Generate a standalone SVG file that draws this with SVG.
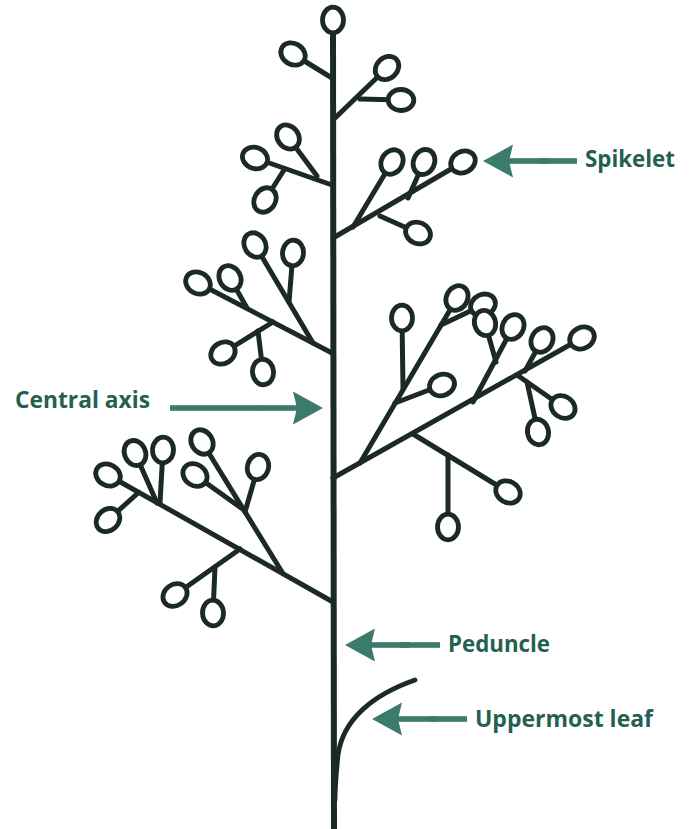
<svg xmlns="http://www.w3.org/2000/svg" width="689" height="829" viewBox="0 0 689 829">
  <style>
    .axis { stroke: #1c2a24; stroke-width: 6; fill: none; stroke-linecap: butt; }
    .br { stroke: #1c2a24; stroke-width: 5; fill: none; stroke-linecap: round; }
    .leaf { stroke: #1c2a24; stroke-width: 4.8; fill: none; stroke-linecap: round; }
    .sp { stroke: #1c2a24; stroke-width: 4.8; fill: #ffffff; }
    .arrow { fill: #3b7b6b; }
    .lbl { font-family: "Open Sans", "Liberation Sans", sans-serif; font-weight: bold; font-size: 23px; fill: #245f52; }
  </style>
  <defs>
    <ellipse id="spk" cx="0" cy="0" rx="10.5" ry="12.8" class="sp"/>
    <!-- left-pointing arrow with tip at origin -->
    <g id="arrL">
      <polygon points="0,0 30,-16.5 26,0 30,16.5"/>
      <rect x="25" y="-2.8" width="40" height="5.6"/>
    </g>
  </defs>
  <rect width="689" height="829" fill="#ffffff"/>

  <!-- the plant: central axis, leaf, branches and spikelets -->
  <g id="plant">
    <line class="axis" x1="333" y1="28" x2="334" y2="829"/>
    <path id="leaf" class="leaf" d="M415,680 C375,694 343,718 338,755 C336,775 335,790 335,800"/>

    <g id="branches" class="br">
      <!-- top -->
      <line x1="332" y1="78" x2="293" y2="54"/>
      <line x1="335" y1="118" x2="387" y2="68"/>
      <line x1="360" y1="99" x2="401" y2="100"/>
      <!-- upper left -->
      <line x1="332" y1="185" x2="255" y2="158"/>
      <line x1="317" y1="176" x2="288" y2="137"/>
      <line x1="284" y1="170" x2="265" y2="200"/>
      <!-- upper right -->
      <line x1="333" y1="238" x2="463" y2="162"/>
      <line x1="353" y1="227" x2="392" y2="162"/>
      <line x1="408" y1="198" x2="424" y2="162"/>
      <line x1="380" y1="216" x2="418" y2="233"/>
      <!-- middle left -->
      <line x1="332" y1="353" x2="198" y2="283"/>
      <line x1="247" y1="308" x2="230" y2="278"/>
      <line x1="313" y1="343" x2="255" y2="245"/>
      <line x1="289" y1="302" x2="293" y2="253"/>
      <line x1="273" y1="322" x2="223" y2="353"/>
      <line x1="258" y1="331" x2="263" y2="372"/>
      <!-- large right cluster -->
      <line x1="333" y1="478" x2="582" y2="338"/>
      <line x1="360" y1="463" x2="457" y2="298"/>
      <line x1="403" y1="389" x2="402" y2="318"/>
      <line x1="395" y1="403" x2="442" y2="385"/>
      <line x1="441" y1="325" x2="483" y2="305"/>
      <line x1="473" y1="402" x2="513" y2="327"/>
      <line x1="496" y1="362" x2="485" y2="323"/>
      <line x1="525" y1="371" x2="542" y2="340"/>
      <line x1="517" y1="375" x2="563" y2="407"/>
      <line x1="527" y1="382" x2="538" y2="432"/>
      <line x1="413" y1="434" x2="508" y2="492"/>
      <line x1="448" y1="455" x2="448" y2="527"/>
      <!-- lower left cluster -->
      <line x1="333" y1="602" x2="108" y2="475"/>
      <line x1="157" y1="503" x2="135" y2="453"/>
      <line x1="160" y1="503" x2="163" y2="450"/>
      <line x1="138" y1="493" x2="108" y2="520"/>
      <line x1="282" y1="572" x2="202" y2="442"/>
      <line x1="244" y1="510" x2="195" y2="475"/>
      <line x1="245" y1="512" x2="258" y2="467"/>
      <line x1="240" y1="549" x2="175" y2="595"/>
      <line x1="215" y1="567" x2="213" y2="613"/>
    </g>

    <g id="spikelets">
      <use href="#spk" transform="translate(333,20)"/>
      <use href="#spk" transform="translate(293,54) rotate(-58)"/>
      <use href="#spk" transform="translate(387,68) rotate(46)"/>
      <use href="#spk" transform="translate(401,100) rotate(91)"/>
      <use href="#spk" transform="translate(288,137) rotate(-37)"/>
      <use href="#spk" transform="translate(255,158) rotate(-71)"/>
      <use href="#spk" transform="translate(265,200) rotate(32)"/>
      <use href="#spk" transform="translate(392,162) rotate(31)"/>
      <use href="#spk" transform="translate(424,162) rotate(24)"/>
      <use href="#spk" transform="translate(463,162) rotate(60)"/>
      <use href="#spk" transform="translate(418,233) rotate(-66)"/>
      <use href="#spk" transform="translate(198,283) rotate(-62)"/>
      <use href="#spk" transform="translate(230,278) rotate(-30)"/>
      <use href="#spk" transform="translate(255,245) rotate(-31)"/>
      <use href="#spk" transform="translate(293,253) rotate(5)"/>
      <use href="#spk" transform="translate(223,353) rotate(58)"/>
      <use href="#spk" transform="translate(263,372) rotate(-7)"/>
      <use href="#spk" transform="translate(402,318)"/>
      <use href="#spk" transform="translate(483,305) rotate(64)"/>
      <use href="#spk" transform="translate(457,298) rotate(30)"/>
      <use href="#spk" transform="translate(485,323) rotate(-16)"/>
      <use href="#spk" transform="translate(513,327) rotate(28)"/>
      <use href="#spk" transform="translate(542,340) rotate(29)"/>
      <use href="#spk" transform="translate(582,338) rotate(61)"/>
      <use href="#spk" transform="translate(442,385) rotate(69)"/>
      <use href="#spk" transform="translate(563,407) rotate(-55)"/>
      <use href="#spk" transform="translate(538,432) rotate(-12)"/>
      <use href="#spk" transform="translate(508,492) rotate(-59)"/>
      <use href="#spk" transform="translate(448,527)"/>
      <use href="#spk" transform="translate(108,475) rotate(-61)"/>
      <use href="#spk" transform="translate(135,453) rotate(-24)"/>
      <use href="#spk" transform="translate(163,450) rotate(3)"/>
      <use href="#spk" transform="translate(202,442) rotate(-32)"/>
      <use href="#spk" transform="translate(195,475) rotate(-55)"/>
      <use href="#spk" transform="translate(258,467) rotate(16)"/>
      <use href="#spk" transform="translate(108,520) rotate(48)"/>
      <use href="#spk" transform="translate(175,595) rotate(55)"/>
      <use href="#spk" transform="translate(213,613) rotate(-3)"/>
    </g>
  </g>

  <!-- labels -->
  <g id="label-spikelet">
    <text class="lbl" x="585" y="167" textLength="90" lengthAdjust="spacingAndGlyphs">Spikelet</text>
  </g>
  <g id="label-central-axis">
    <text class="lbl" x="15" y="408" textLength="135" lengthAdjust="spacingAndGlyphs">Central axis</text>
  </g>
  <g id="label-peduncle">
    <text class="lbl" x="448" y="652" textLength="102" lengthAdjust="spacingAndGlyphs">Peduncle</text>
  </g>
  <g id="label-leaf">
    <text class="lbl" x="475" y="727" textLength="178" lengthAdjust="spacingAndGlyphs">Uppermost leaf</text>
  </g>

  <!-- pointer arrows -->
  <g id="connectors" class="arrow">
    <use href="#arrL" transform="translate(483,161)"/>
    <use href="#arrL" transform="translate(323,408) rotate(180)"/>
    <use href="#arrL" transform="translate(345,645)"/>
    <use href="#arrL" transform="translate(372,719)"/>
    <!-- shaft extensions to reach each label -->
    <rect x="540" y="158.2" width="37" height="5.6"/>
    <rect x="170" y="405.2" width="90" height="5.6"/>
    <rect x="400" y="642.2" width="40" height="5.6"/>
    <rect x="430" y="716.2" width="37" height="5.6"/>
  </g>
</svg>
